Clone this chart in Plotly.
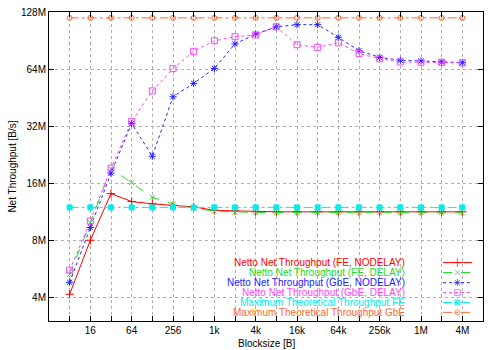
import plotly.graph_objects as go

# ---- data (throughput in M = 2^20 B/s) ----
blocksizes = [2**k for k in range(3, 23)]  # 8 B .. 4 MiB
fe_nodelay = [4.15, 8.0, 14.1, 12.8, 12.45, 12.2, 12.0, 11.5, 11.4, 11.3, 11.3, 11.3, 11.3, 11.3, 11.3, 11.3, 11.3, 11.3, 11.3, 11.3]
fe_delay = [5.28, 9.9, 19.1, 16.1, 13.5, 12.4, 11.8, 11.4, 11.25, 11.2, 11.2, 11.2, 11.2, 11.2, 11.2, 11.2, 11.2, 11.2, 11.2, 11.15]
gbe_nodelay = [4.8, 9.34, 18.1, 33.0, 22.2, 45.7, 53.8, 64.5, 86.8, 97.9, 107.0, 109.7, 109.7, 94.1, 80.0, 73.8, 71.2, 70.6, 69.7, 69.2]
gbe_delay = [5.56, 10.1, 19.2, 33.9, 49.1, 64.3, 79.4, 90.2, 94.8, 96.8, 107.0, 86.0, 83.3, 88.1, 77.4, 72.5, 69.7, 69.5, 69.5, 69.0]
max_fe = [11.92] * len(blocksizes)
max_gbe = [119.2] * len(blocksizes)

series_names = [
    "Netto Net Throughput (FE, NODELAY)",
    "Netto Net Throughput (FE, DELAY)",
    "Netto Net Throughput (GbE, NODELAY)",
    "Netto Net Throughput (GbE, DELAY)",
    "Maximum Theoretical Throughput FE",
    "Maximum Theoretical Throughput GbE",
]
series_values = [fe_nodelay, fe_delay, gbe_nodelay, gbe_delay, max_fe, max_gbe]

x_tick_vals = blocksizes
x_tick_text = ["" if i % 2 == 0 else lab for i, lab in enumerate(
    ["8", "16", "32", "64", "128", "256", "512", "1k", "2k", "4k", "8k", "16k",
     "32k", "64k", "128k", "256k", "512k", "1M", "2M", "4M"])]
y_tick_vals = [4, 8, 16, 32, 64, 128]
y_tick_text = ["4M", "8M", "16M", "32M", "64M", "128M"]
x_title = "Blocksize [B]"
y_title = "Net Throughput [B/s]"

# ---- styles ----
colors = ["#ff0000", "#22dd22", "#2222ff", "#ff44ff", "#00eeee", "#ff6a30"]
dashes = ["solid", "dash", "dot", "dot", "dashdot", "dashdot"]
symbols = ["cross-thin-open", "x-thin-open", "asterisk-open", "square-open", "square", "circle-open"]
msizes = [6, 5, 6, 6, 5, 5]

FONT = "Liberation Sans, Arial, sans-serif"

fig = go.Figure()
for name, vals, c, d, s, ms in zip(series_names, series_values, colors, dashes, symbols, msizes):
    fig.add_trace(go.Scatter(
        x=blocksizes, y=vals, name=name, mode="lines+markers",
        line=dict(color=c, width=1, dash=d),
        marker=dict(symbol=s, size=ms, color=c, line=dict(color=c, width=1)),
        showlegend=False,
    ))

# manual gnuplot-style legend (text right-aligned, sample on the right)
legend_rows = [0.189, 0.157, 0.124, 0.092, 0.060, 0.028]
sample_x = [0.908, 0.941, 0.975]
for name, c, d, s, ms, ry in zip(series_names, colors, dashes, symbols, msizes, legend_rows):
    fig.add_trace(go.Scatter(
        x=sample_x, y=[ry] * 3, mode="lines+markers", xaxis="x2", yaxis="y2",
        line=dict(color=c, width=1, dash=d),
        marker=dict(symbol=s, size=[0, ms, 0], color=c, line=dict(color=c, width=1)),
        showlegend=False, hoverinfo="skip",
    ))
    fig.add_annotation(text=name, xref="paper", yref="paper", x=0.825, y=ry,
                       xanchor="right", yanchor="middle", align="right", showarrow=False,
                       font=dict(color=c, size=10, family=FONT))

# axis titles (placed as gnuplot does)
fig.add_annotation(text=x_title, xref="paper", yref="paper", x=0.5, y=-0.074,
                   xanchor="center", yanchor="middle", showarrow=False,
                   font=dict(size=10, family=FONT, color="black"))
fig.add_annotation(text=y_title, xref="paper", yref="paper", x=-0.085, y=0.5,
                   xanchor="center", yanchor="middle", textangle=-90, showarrow=False,
                   font=dict(size=10, family=FONT, color="black"))

axis_common = dict(showline=True, linecolor="black", linewidth=1, mirror="allticks",
                   ticks="inside", ticklen=5, tickcolor="black", zeroline=False,
                   showgrid=True, gridcolor="#b0b0b0", griddash="dot", gridwidth=1,
                   automargin=False,
                   tickfont=dict(size=10, family=FONT, color="black"))

fig.update_layout(
    width=500, height=350,
    margin=dict(l=49, r=17, t=12, b=29),
    paper_bgcolor="white", plot_bgcolor="white",
    font=dict(family=FONT, size=10, color="black"),
    xaxis=dict(type="log", range=[0.60206, 6.9237], tickvals=x_tick_vals, ticktext=x_tick_text,
               **axis_common),
    yaxis=dict(type="log", range=[0.477, 2.10721], tickvals=y_tick_vals, ticktext=y_tick_text,
               **axis_common),
    xaxis2=dict(overlaying="x", range=[0, 1], visible=False, anchor="y2"),
    yaxis2=dict(overlaying="y", range=[0, 1], visible=False, anchor="x2"),
)

fig.write_html("out.html", config={"displayModeBar": False},
               post_script="document.body.style.margin='0';document.body.style.overflow='hidden';")
